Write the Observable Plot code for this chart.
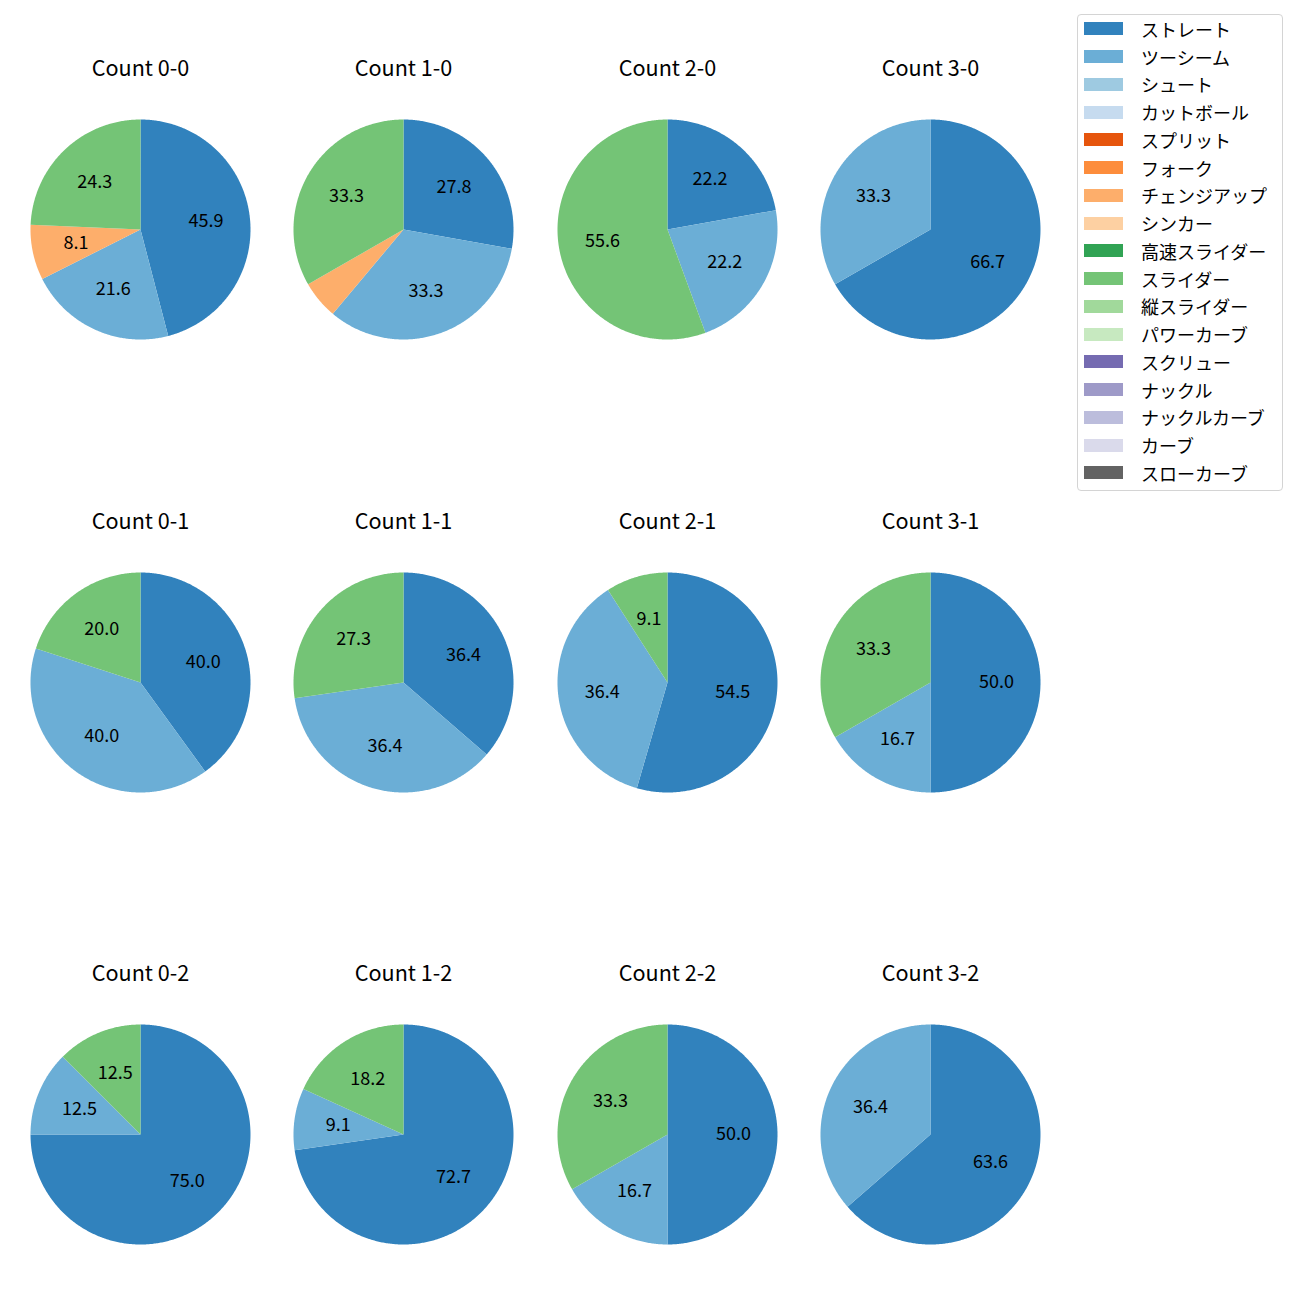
<!DOCTYPE html>
<html><head><meta charset="utf-8">
<script src="https://cdn.jsdelivr.net/npm/d3@7"></script>
<script src="https://cdn.jsdelivr.net/npm/@observablehq/plot@0.6"></script>
<style>
body{margin:0;background:#fff;font-family:"Noto Sans CJK JP",sans-serif;}
#wrap{position:relative;width:1300px;height:1300px;}
#chart{position:absolute;left:0;top:0;}
#legend{position:absolute;left:1077px;top:15px;width:206px;height:477px;border:1px solid #d4d4d4;border-radius:4px;box-sizing:border-box;background:#fff;margin-top:-1px;}
.row{height:27.75px;display:flex;align-items:center;font-size:18px;color:#000;white-space:nowrap;}
.sw{width:39px;height:13px;margin-left:6px;margin-right:18px;flex:none;}
</style></head>
<body>
<div id="wrap"><div id="chart"></div><div id="legend"></div></div>
<script>
// ---- data ----
const counts = ["0-0","1-0","2-0","3-0","0-1","1-1","2-1","3-1","0-2","1-2","2-2","3-2"];
const pitchTypes = ["ストレート","ツーシーム","シュート","カットボール","スプリット","フォーク","チェンジアップ","シンカー","高速スライダー","スライダー","縦スライダー","パワーカーブ","スクリュー","ナックル","ナックルカーブ","カーブ","スローカーブ"];
const pitchColors = ["#3182bd","#6baed6","#9ecae1","#c6dbef","#e6550d","#fd8d3c","#fdae6b","#fdd0a2","#31a354","#74c476","#a1d99b","#c7e9c0","#756bb1","#9e9ac8","#bcbddc","#dadaeb","#636363"];
const straight  = [45.9, 27.8, 22.2, 66.7, 40.0, 36.4, 54.5, 50.0, 75.0, 72.7, 50.0, 63.6];
const twoSeam   = [21.6, 33.3, 22.2, 33.3, 40.0, 36.4, 36.4, 16.7, 12.5,  9.1, 16.7, 36.4];
const changeup  = [ 8.1,  5.6,  0,    0,    0,    0,    0,    0,    0,    0,    0,    0  ];
const slider    = [24.3, 33.3, 55.6,  0,   20.0, 27.3,  9.1, 33.3, 12.5, 18.2, 33.3,  0  ];
const seriesByPitch = {"ストレート": straight, "ツーシーム": twoSeam, "チェンジアップ": changeup, "スライダー": slider};

// ---- layout ----
const W = 1300, H = 1300, R = 110, LR = 0.6 * R;
const colX = [140, 403, 667, 930], rowY = [229, 682, 1134];

const features = [], labels = [], titles = [];
counts.forEach((c, i) => {
  const cx = colX[i % 4], cy = rowY[Math.floor(i / 4)];
  titles.push({x: cx, y: cy - 160, text: "Count " + c});
  const items = pitchTypes
    .map(p => ({pitch: p, value: seriesByPitch[p] ? seriesByPitch[p][i] : 0}))
    .filter(d => d.value > 0);
  const arcs = d3.pie().sort(null).value(d => d.value)(items);
  arcs.forEach(a => {
    const ring = [[cx, cy]];
    const n = Math.max(2, Math.ceil((a.endAngle - a.startAngle) / 0.01));
    for (let k = 0; k <= n; k++) {
      const t = a.startAngle + (a.endAngle - a.startAngle) * k / n;
      ring.push([cx + R * Math.sin(t), cy - R * Math.cos(t)]);
    }
    ring.push([cx, cy]);
    features.push({type: "Feature", properties: {pitch: a.data.pitch}, geometry: {type: "Polygon", coordinates: [ring]}});
    if (a.data.value >= 6) {
      const m = (a.startAngle + a.endAngle) / 2;
      labels.push({x: cx + LR * Math.sin(m), y: cy - LR * Math.cos(m), text: a.data.value.toFixed(1)});
    }
  });
});

const chart = Plot.plot({
  width: W, height: H, margin: 0,
  projection: d3.geoIdentity(),
  color: {type: "ordinal", domain: pitchTypes, range: pitchColors},
  style: {fontFamily: '"Noto Sans CJK JP", sans-serif', background: "#fff"},
  marks: [
    Plot.geo(features, {fill: d => d.properties.pitch}),
    Plot.text(labels, {x: "x", y: "y", text: "text", fontSize: 18, fill: "#000"}),
    Plot.text(titles, {x: "x", y: "y", text: "text", fontSize: 21.6, fill: "#000"})
  ]
});
document.getElementById("chart").appendChild(chart);

const leg = document.getElementById("legend");
pitchTypes.forEach((p, i) => {
  const row = document.createElement("div");
  row.className = "row";
  const sw = document.createElement("div");
  sw.className = "sw";
  sw.style.background = chart.scale("color").apply(p);
  const t = document.createElement("span");
  t.textContent = p;
  row.appendChild(sw); row.appendChild(t);
  leg.appendChild(row);
});
</script>
</body></html>
